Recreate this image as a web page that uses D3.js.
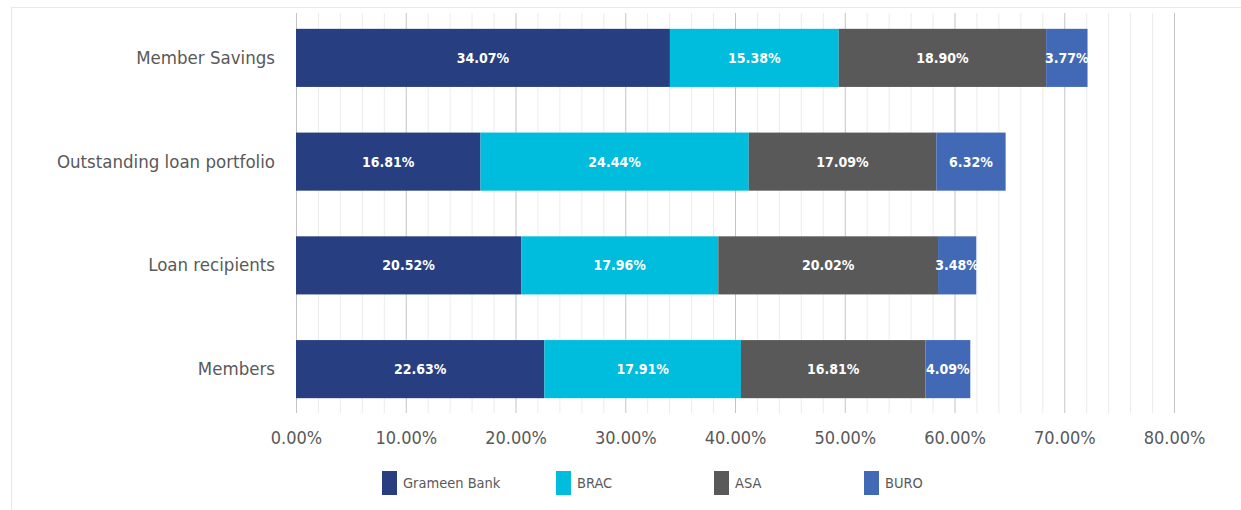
<!DOCTYPE html>
<html>
<head>
<meta charset="utf-8">
<script src="https://cdn.jsdelivr.net/npm/d3@7"></script>
<style>
    body { margin: 0; background: #fff; }
    svg text { font-family: "Liberation Sans Narrow", "DejaVu Sans Condensed", sans-serif; }
</style>
</head>
<body>
<div id="chart"></div>
<script>

// categories top to bottom
let categories = ["Member Savings", "Outstanding loan portfolio", "Loan recipients", "Members"];

// series names
let series = ["Grameen Bank", "BRAC", "ASA", "BURO"];

// values per category, in percent
let grameen = [34.07, 16.81, 20.52, 22.63];
let brac = [15.38, 24.44, 17.96, 17.91];
let asa = [18.90, 17.09, 20.02, 16.81];
let buro = [3.77, 6.32, 3.48, 4.09];

// axis ticks
let majorTicks = [0, 10, 20, 30, 40, 50, 60, 70, 80];

let colors = ["#273f80", "#00bcdd", "#595959", "#4169b5"];

let width = 1241, height = 510;

let svg = d3.select("#chart").append("svg")
    .attr("width", width)
    .attr("height", height);

// light frame round the chart
svg.append("rect")
    .attr("x", 11.5)
    .attr("y", 7.5)
    .attr("width", 1300)
    .attr("height", 600)
    .attr("fill", "none")
    .attr("stroke", "#e8e8e8");

let x = d3.scaleLinear()
    .domain([0, 80])
    .range([296, 1174]);

let y = d3.scaleBand()
    .domain(categories)
    .range([6, 421])
    .paddingInner(0.44)
    .paddingOuter(0.22);

let gridTop = 13, gridBottom = 413;

// minor gridlines every 2%
let minorTicks = d3.range(0, 81, 2).filter(d => d % 10 !== 0);
svg.append("g").selectAll("line")
    .data(minorTicks)
    .enter().append("line")
    .attr("x1", d => x(d) + 0.5)
    .attr("x2", d => x(d) + 0.5)
    .attr("y1", gridTop)
    .attr("y2", gridBottom)
    .attr("stroke", "#ececec");

// major gridlines
svg.append("g").selectAll("line")
    .data(majorTicks)
    .enter().append("line")
    .attr("x1", d => x(d) + 0.5)
    .attr("x2", d => x(d) + 0.5)
    .attr("y1", gridTop)
    .attr("y2", gridBottom)
    .attr("stroke", "#c4c4c4");

// stack the data
let rows = categories.map((c, i) => ({
    category: c,
    "Grameen Bank": grameen[i],
    "BRAC": brac[i],
    "ASA": asa[i],
    "BURO": buro[i]
}));

let stacked = d3.stack().keys(series)(rows);

let layers = svg.append("g").selectAll("g")
    .data(stacked)
    .enter().append("g")
    .attr("fill", (d, i) => colors[i]);

layers.selectAll("rect")
    .data(d => d)
    .enter().append("rect")
    .attr("x", d => x(d[0]))
    .attr("y", d => y(d.data.category))
    .attr("width", d => x(d[1]) - x(d[0]))
    .attr("height", y.bandwidth());

layers.selectAll("text")
    .data(d => d)
    .enter().append("text")
    .attr("x", d => (x(d[0]) + x(d[1])) / 2)
    .attr("y", d => y(d.data.category) + y.bandwidth() / 2)
    .attr("dy", "0.35em")
    .attr("text-anchor", "middle")
    .attr("fill", "#fff")
    .attr("font-size", 14)
    .attr("font-weight", "bold")
    .text(d => (d[1] - d[0]).toFixed(2) + "%");

// x axis labels
let xAxis = d3.axisBottom(x)
    .tickValues(majorTicks)
    .tickSize(0)
    .tickPadding(18)
    .tickFormat(d => d.toFixed(2) + "%");

let xg = svg.append("g")
    .attr("transform", `translate(0, ${gridBottom})`)
    .call(xAxis);
xg.select(".domain").remove();
xg.selectAll("text")
    .attr("font-size", 18)
    .attr("fill", "#595959");

// category labels
let yAxis = d3.axisLeft(y)
    .tickSize(0)
    .tickPadding(21);

let yg = svg.append("g")
    .attr("transform", `translate(${x(0)}, 0)`)
    .call(yAxis);
yg.select(".domain").remove();
yg.selectAll("text")
    .attr("font-size", 18.5)
    .attr("fill", "#595959");

// legend
let legendX = [382, 556, 714, 864];
let legend = svg.append("g").selectAll("g")
    .data(series)
    .enter().append("g")
    .attr("transform", (d, i) => `translate(${legendX[i]}, 471)`);

legend.append("rect")
    .attr("width", 15)
    .attr("height", 24)
    .attr("fill", (d, i) => colors[i]);

legend.append("text")
    .attr("x", 21)
    .attr("y", 12)
    .attr("dy", "0.35em")
    .attr("font-size", 14.5)
    .attr("fill", "#595959")
    .text(d => d);

</script>
</body>
</html>
